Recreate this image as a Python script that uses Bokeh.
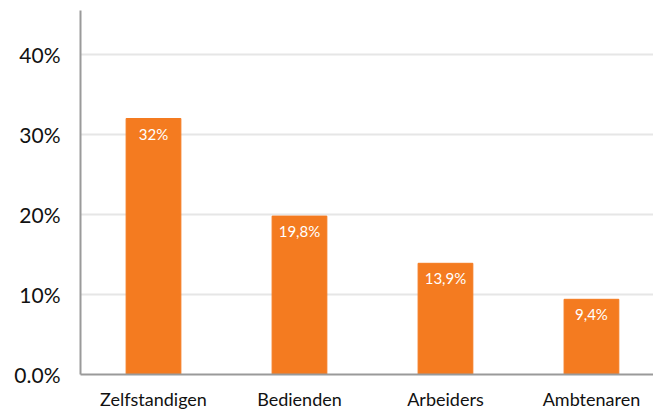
from bokeh.plotting import figure
from bokeh.models import Range1d, FixedTicker, ColumnDataSource
from bokeh.embed import file_html
from bokeh.resources import INLINE
from bokeh.core.properties import value

categories = ["Zelfstandigen", "Bedienden", "Arbeiders", "Ambtenaren"]
values = [32.0, 19.8, 13.9, 9.4]
bar_labels = ["32%", "19,8%", "13,9%", "9,4%"]
y_ticks = [0, 10, 20, 30, 40]
y_tick_labels = ["0.0%", "10%", "20%", "30%", "40%"]

FONT = "Lato"
ORANGE = "#F47B20"

xs = list(range(len(categories)))
src = ColumnDataSource(dict(x=xs, top=values, label=bar_labels))

p = figure(width=653, height=412, output_backend="svg", toolbar_location=None,
           x_range=Range1d(-0.5, 3.425), y_range=Range1d(0, 45.5),
           min_border_left=80, min_border_top=10, min_border_bottom=37, min_border_right=0)
p.outline_line_color = None

p.vbar(x="x", top="top", width=0.375, bottom=0, source=src, color=ORANGE)
p.text(x="x", y="top", text="label", source=src, text_color="white",
       text_font=value(FONT), text_font_size="15px", text_align="center",
       text_baseline="top", y_offset=6)

p.xaxis.ticker = FixedTicker(ticks=xs)
p.xaxis.major_label_overrides = {i: c for i, c in zip(xs, categories)}
p.yaxis.ticker = FixedTicker(ticks=y_ticks)
p.yaxis.major_label_overrides = {t: l for t, l in zip(y_ticks, y_tick_labels)}

for ax in (p.xaxis, p.yaxis):
    ax.axis_line_color = "#9a9a9a"
    ax.axis_line_width = 2
    ax.major_tick_line_color = None
    ax.minor_tick_line_color = None
    ax.major_label_text_font = FONT
    ax.major_label_text_color = "#111111"

p.xaxis.major_label_text_font_size = "18px"
p.xaxis.major_label_standoff = 7
p.yaxis.major_label_text_font_size = "21px"
p.yaxis.major_label_standoff = 14

p.xgrid.grid_line_color = None
p.ygrid.grid_line_color = "#e6e6e6"
p.ygrid.grid_line_width = 2

open("out.html", "w").write(file_html(p, INLINE))
